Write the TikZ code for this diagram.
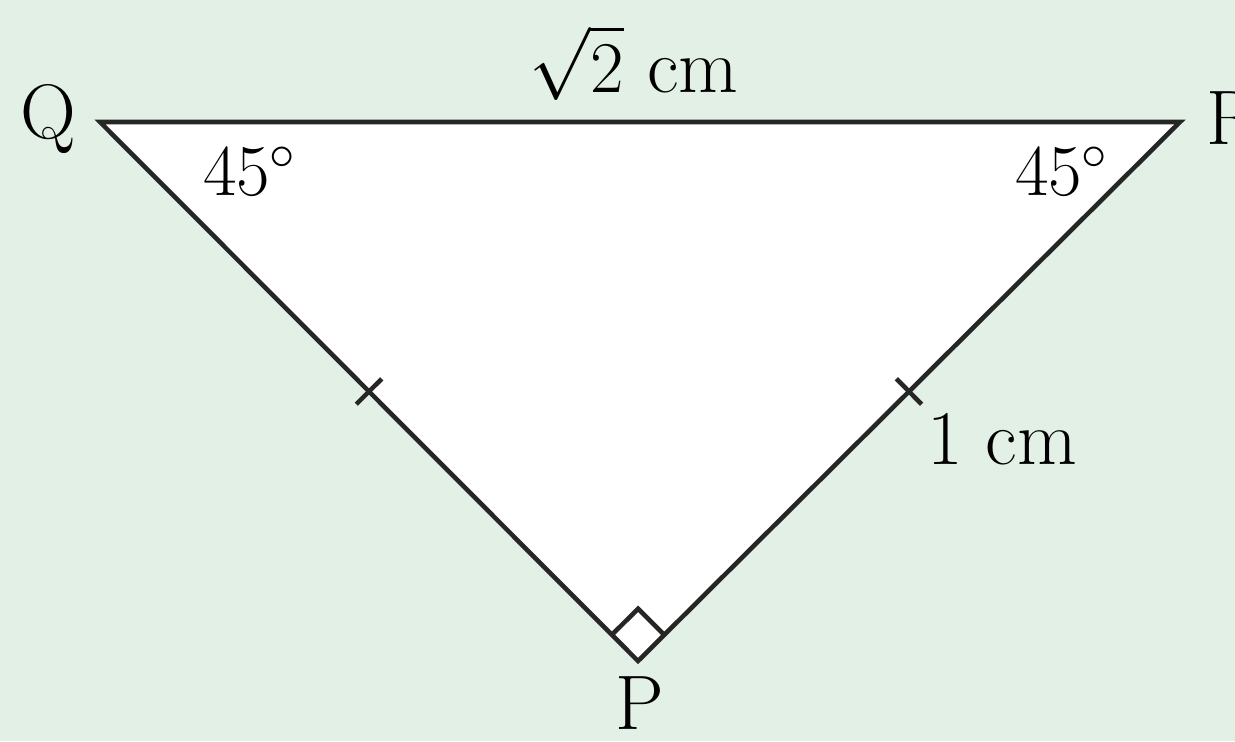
\documentclass[tikz,border=0pt]{standalone}
\usepackage{xcolor}
\usepackage{tikz}
\usetikzlibrary{calc}

\definecolor{paleGreen}{HTML}{E2F0E6}

\begin{document}
\begin{tikzpicture}[font=\fontsize{22}{26}\selectfont, side/.style={black!85, line width=1.3pt, line join=miter}]
  % Background and frame
  \fill[paleGreen] (0, 0) rectangle (12.35, 7.41);
  \useasboundingbox (0, 0) rectangle (12.35, 7.41);

  % Vertices
  \coordinate (Q) at (1.00, 6.19);
  \coordinate (R) at (11.80, 6.19);
  \coordinate (P) at (6.38, 0.80);

  % Triangle
  \filldraw[side, fill=white] (Q) -- (R) -- (P) -- cycle;

  % Right angle mark at P
  \coordinate (pq) at ($(P)!0.37cm!(Q)$);
  \coordinate (pr) at ($(P)!0.37cm!(R)$);
  \draw[side] (pq) -- ($(pq)+(pr)-(P)$) -- (pr);

  % Equal side ticks
  \coordinate (mQP) at ($(Q)!0.5!(P)$);
  \coordinate (mRP) at ($(R)!0.5!(P)$);
  \draw[side] ($(mQP)!0.18cm!90:(P)$) -- ($(mQP)!0.18cm!-90:(P)$);
  \draw[side] ($(mRP)!0.18cm!90:(P)$) -- ($(mRP)!0.18cm!-90:(P)$);

  % Labels
  \node (lblQ) at (0.48, 6.22) {Q};
  \node (lblR) at (12.33, 6.22) {R};
  \node (lblP) at (6.40, 0.38) {P};
  \node (angQ) at (2.50, 5.70) {$45^\circ$};
  \node (angR) at (10.62, 5.70) {$45^\circ$};
  \node[inner sep=1pt] (top) at (6.34, 6.78) {$\sqrt{\vphantom{l}2}$ cm};
  \node (len) at (10.02, 3.02) {1 cm};
\end{tikzpicture}
\end{document}
